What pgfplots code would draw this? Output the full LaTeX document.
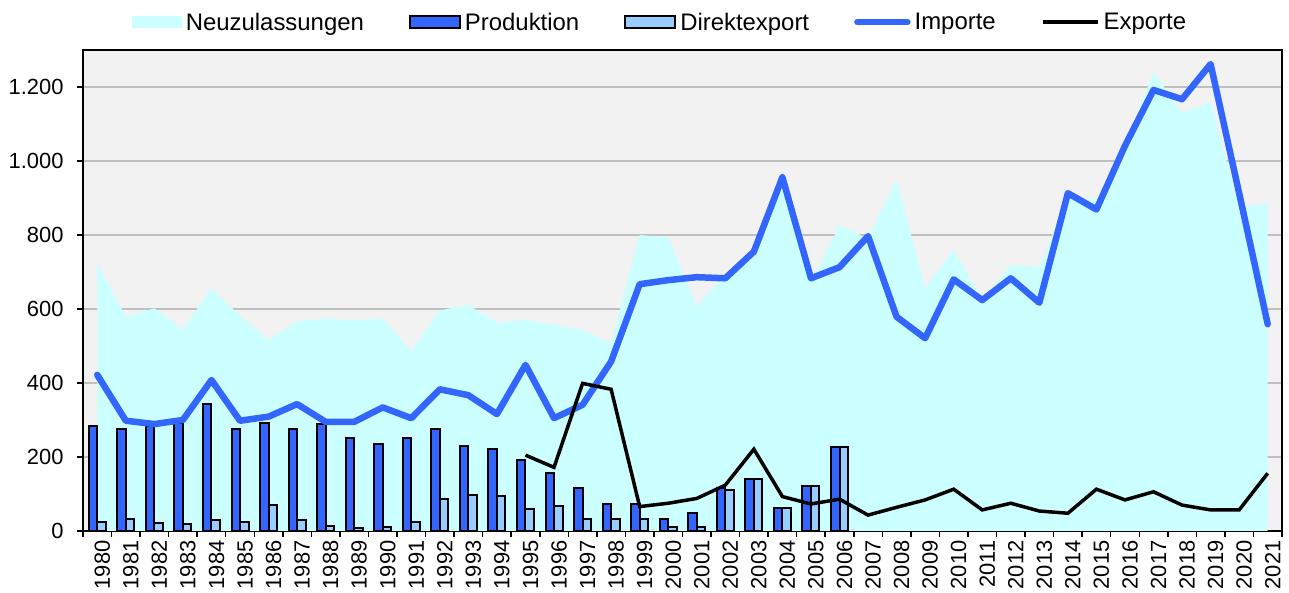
\documentclass[border=0pt]{standalone}
\usepackage{fontspec}
\setmainfont{Liberation Sans}
\usepackage{pgfplots}
\usepackage{pgfplotstable}
\pgfplotsset{compat=1.18}
\definecolor{neu}{RGB}{204,255,255}
\definecolor{prod}{RGB}{51,102,255}
\definecolor{dex}{RGB}{153,204,255}
\definecolor{bg}{RGB}{242,242,242}
\definecolor{gridc}{RGB}{191,191,191}

\pgfplotstableread{
year neu
1980 723
1981 579
1982 602
1983 545
1984 656
1985 582
1986 516
1987 566
1988 574
1989 569
1990 574
1991 485
1992 596
1993 611
1994 563
1995 570
1996 557
1997 543
1998 508
1999 800
2000 793
2001 606
2002 695
2003 755
2004 940
2005 672
2006 826
2007 790
2008 949
2009 656
2010 759
2011 625
2012 719
2013 714
2014 905
2015 895
2016 1040
2017 1241
2018 1129
2019 1160
2020 874
2021 886
}\neutable

\pgfplotstableread{
year prod dex
1980 284 24
1981 275 32
1982 285 21
1983 291 18
1984 343 30
1985 275 24
1986 291 70
1987 276 30
1988 288 14
1989 250 7
1990 235 12
1991 252 24
1992 276 86
1993 230 97
1994 222 95
1995 192 59
1996 156 68
1997 117 33
1998 72 33
1999 72 33
2000 32 12
2001 48 12
2002 117 111
2003 140 140
2004 61 61
2005 122 122
2006 228 228
}\bartable

\pgfplotstableread{
year imp
1980 422
1981 298
1982 289
1983 300
1984 408
1985 298
1986 309
1987 343
1988 295
1989 295
1990 334
1991 305
1992 383
1993 367
1994 316
1995 449
1996 305
1997 341
1998 458
1999 667
2000 678
2001 686
2002 683
2003 755
2004 956
2005 683
2006 713
2007 797
2008 579
2009 521
2010 680
2011 624
2012 683
2013 617
2014 913
2015 869
2016 1041
2017 1192
2018 1167
2019 1262
2020 913
2021 559
}\imptable

\pgfplotstableread{
year exp
1995 205
1996 172
1997 399
1998 383
1999 66
2000 75
2001 88
2002 124
2003 221
2004 93
2005 73
2006 86
2007 43
2008 64
2009 84
2010 113
2011 57
2012 75
2013 54
2014 48
2015 113
2016 84
2017 106
2018 70
2019 57
2020 57
2021 156
}\exptable

\begin{document}
\begin{tikzpicture}
\begin{axis}[
  at={(83bp,62bp)}, anchor=south west,
  scale only axis,
  width=1199bp, height=481bp,
  xmin=1979.5, xmax=2021.5,
  ymin=0, ymax=1300,
  axis background/.style={fill=bg},
  axis line style={line width=2bp, black},
  ytick={0,200,...,1200},
  ymajorgrids,
  major grid style={line width=2bp, gridc},
  xtick={1979.5,1980.5,...,2021.5},
  x tick label as interval,
  xticklabels={1980,1981,1982,1983,1984,1985,1986,1987,1988,1989,1990,1991,1992,1993,1994,1995,1996,1997,1998,1999,2000,2001,2002,2003,2004,2005,2006,2007,2008,2009,2010,2011,2012,2013,2014,2015,2016,2017,2018,2019,2020,2021},
  tick pos=left,
  tick align=outside,
  major tick length=6bp,
  tick style={line width=1.5bp, black},
  x tick label style={rotate=90, anchor=east, yshift=-5bp, font=\fontsize{22}{26}\selectfont},
  y tick label style={xshift=-10bp, font=\fontsize{22}{26}\selectfont},
  /pgf/number format/assume math mode=true,
  /pgf/number format/1000 sep={.},
  legend columns=5,
  legend style={at={(0.4804,1.058)}, anchor=center, draw=none, fill=none,
    font=\fontsize{24}{28}\selectfont,
    /tikz/every even column/.append style={column sep=45bp},
    /tikz/every odd column/.append style={column sep=4bp},
    nodes={inner sep=0bp}},
]
\addplot[fill=neu, draw=none,
  legend image code/.code={\fill[neu] (0bp,-6bp) rectangle (50bp,6bp);}]
  table[x=year, y=neu] {\neutable} \closedcycle;
\addlegendentry{Neuzulassungen}
\addplot[ybar, bar width=8.5bp, bar shift=-4.25bp, fill=prod, draw=black, line width=2bp,
  legend image code/.code={\draw[fill=prod, line width=2bp] (0bp,-6bp) rectangle (50bp,6bp);}]
  table[x=year, y=prod] {\bartable};
\addlegendentry{Produktion}
\addplot[ybar, bar width=8.5bp, bar shift=4.25bp, fill=dex, draw=black, line width=2bp,
  legend image code/.code={\draw[fill=dex, line width=2bp] (0bp,-6bp) rectangle (50bp,6bp);}]
  table[x=year, y=dex] {\bartable};
\addlegendentry{Direktexport}
\addplot[prod, line width=6.5bp, line join=round, line cap=round, mark=none,
  legend image code/.code={\draw[prod, line width=6.5bp, line cap=round] (3bp,0bp) -- (53bp,0bp);}]
  table[x=year, y=imp] {\imptable};
\addlegendentry{Importe}
\addplot[black, line width=3.5bp, line join=miter, mark=none,
  legend image code/.code={\draw[black, line width=4bp] (0bp,0bp) -- (55bp,0bp);}]
  table[x=year, y=exp] {\exptable};
\addlegendentry{Exporte}
\end{axis}
\pgfresetboundingbox
\useasboundingbox (0,0) rectangle (1289bp,593bp);
\end{tikzpicture}
\end{document}
